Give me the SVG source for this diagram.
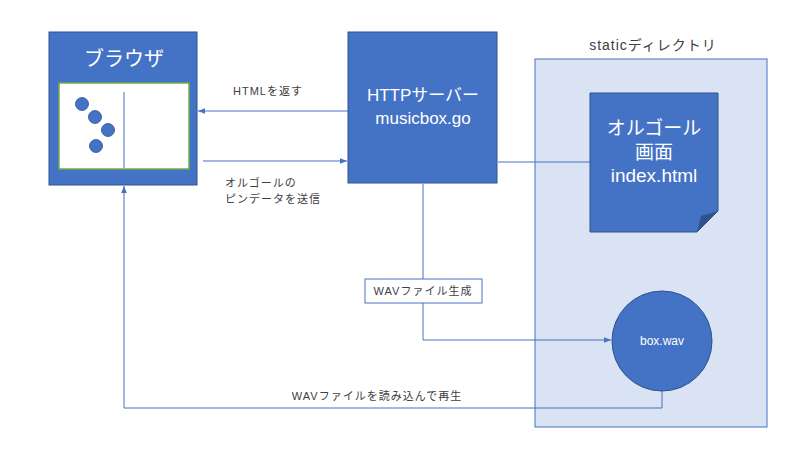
<svg xmlns="http://www.w3.org/2000/svg" width="800" height="455" viewBox="0 0 800 455">
<defs>
<style>
text{font-family:"Liberation Sans","Noto Sans CJK JP",sans-serif}
.box{fill:#4472C4;stroke:#2F528F;stroke-width:1}
.wt{fill:#fff;text-anchor:middle}
.lbl{fill:#404040;font-size:11px;letter-spacing:1px}
.ln{fill:none;stroke:#4472C4;stroke-width:1}
</style>
<marker id="ah" viewBox="0 0 10 10" refX="10" refY="5" markerWidth="7" markerHeight="7" orient="auto" markerUnits="userSpaceOnUse">
<path d="M0,1 L10,5 L0,9 Z" fill="#4472C4"/>
</marker>
</defs>
<rect width="800" height="455" fill="#fff"/>
<g id="static-dir">
<rect x="535" y="59" width="232" height="368" fill="#DAE3F3" stroke="#4472C4" stroke-width="1"/>
<text x="653" y="50" text-anchor="middle" font-size="14" fill="#404040" letter-spacing="1">staticディレクトリ</text>
</g>
<g id="connectors">
<line class="ln" x1="348" y1="111" x2="198" y2="111" marker-end="url(#ah)"/>
<line class="ln" x1="203" y1="161" x2="347" y2="161" marker-end="url(#ah)"/>
<line class="ln" x1="498" y1="162" x2="590" y2="162"/>
<polyline class="ln" points="423,184 423,340 611,340" marker-end="url(#ah)"/>
<polyline class="ln" points="662,391 662,408 124,408 124,186" marker-end="url(#ah)"/>
<text class="lbl" x="268" y="95" text-anchor="middle">HTMLを返す</text>
<text class="lbl" x="225" y="187">オルゴールの</text>
<text class="lbl" x="225" y="203">ピンデータを送信</text>
<text class="lbl" x="377" y="400" text-anchor="middle" letter-spacing="1.5">WAVファイルを読み込んで再生</text>
</g>
<g id="browser">
<rect class="box" x="49" y="32" width="148" height="153"/>
<text class="wt" x="124" y="66" font-size="20">ブラウザ</text>
<rect x="59" y="83" width="130" height="86" fill="#fff" stroke="#70AD47" stroke-width="1.5"/>
<line x1="124" y1="92" x2="124" y2="168" stroke="#4472C4" stroke-width="1"/>
<circle cx="82" cy="104" r="6.5" fill="#4472C4" stroke="#2F528F" stroke-width="0.8"/>
<circle cx="95" cy="117" r="6.5" fill="#4472C4" stroke="#2F528F" stroke-width="0.8"/>
<circle cx="108" cy="130" r="6.5" fill="#4472C4" stroke="#2F528F" stroke-width="0.8"/>
<circle cx="96" cy="146" r="6.5" fill="#4472C4" stroke="#2F528F" stroke-width="0.8"/>
</g>
<g id="server">
<rect class="box" x="348" y="32" width="149" height="151"/>
<text class="wt" x="423" y="101" font-size="17">HTTPサーバー</text>
<text class="wt" x="423" y="124" font-size="17">musicbox.go</text>
</g>
<g id="index-html">
<path d="M590,93 H718 V211 L697,232 H590 Z" fill="#4472C4" stroke="#2F528F" stroke-width="1"/>
<path d="M697,232 L701,216 Q708,214 718,211 Z" fill="#2F528F"/>
<text class="wt" x="654" y="135" font-size="19">オルゴール</text>
<text class="wt" x="654" y="159" font-size="19">画面</text>
<text class="wt" x="654" y="182" font-size="19">index.html</text>
</g>
<g id="wav-gen">
<rect x="365" y="279" width="117" height="24" fill="#fff" stroke="#4472C4" stroke-width="1"/>
<text class="lbl" x="423" y="295" text-anchor="middle">WAVファイル生成</text>
</g>
<g id="box-wav">
<circle cx="662" cy="341" r="50" fill="#4472C4" stroke="#2F528F" stroke-width="1"/>
<text class="wt" x="662" y="345" font-size="12">box.wav</text>
</g>
</svg>
